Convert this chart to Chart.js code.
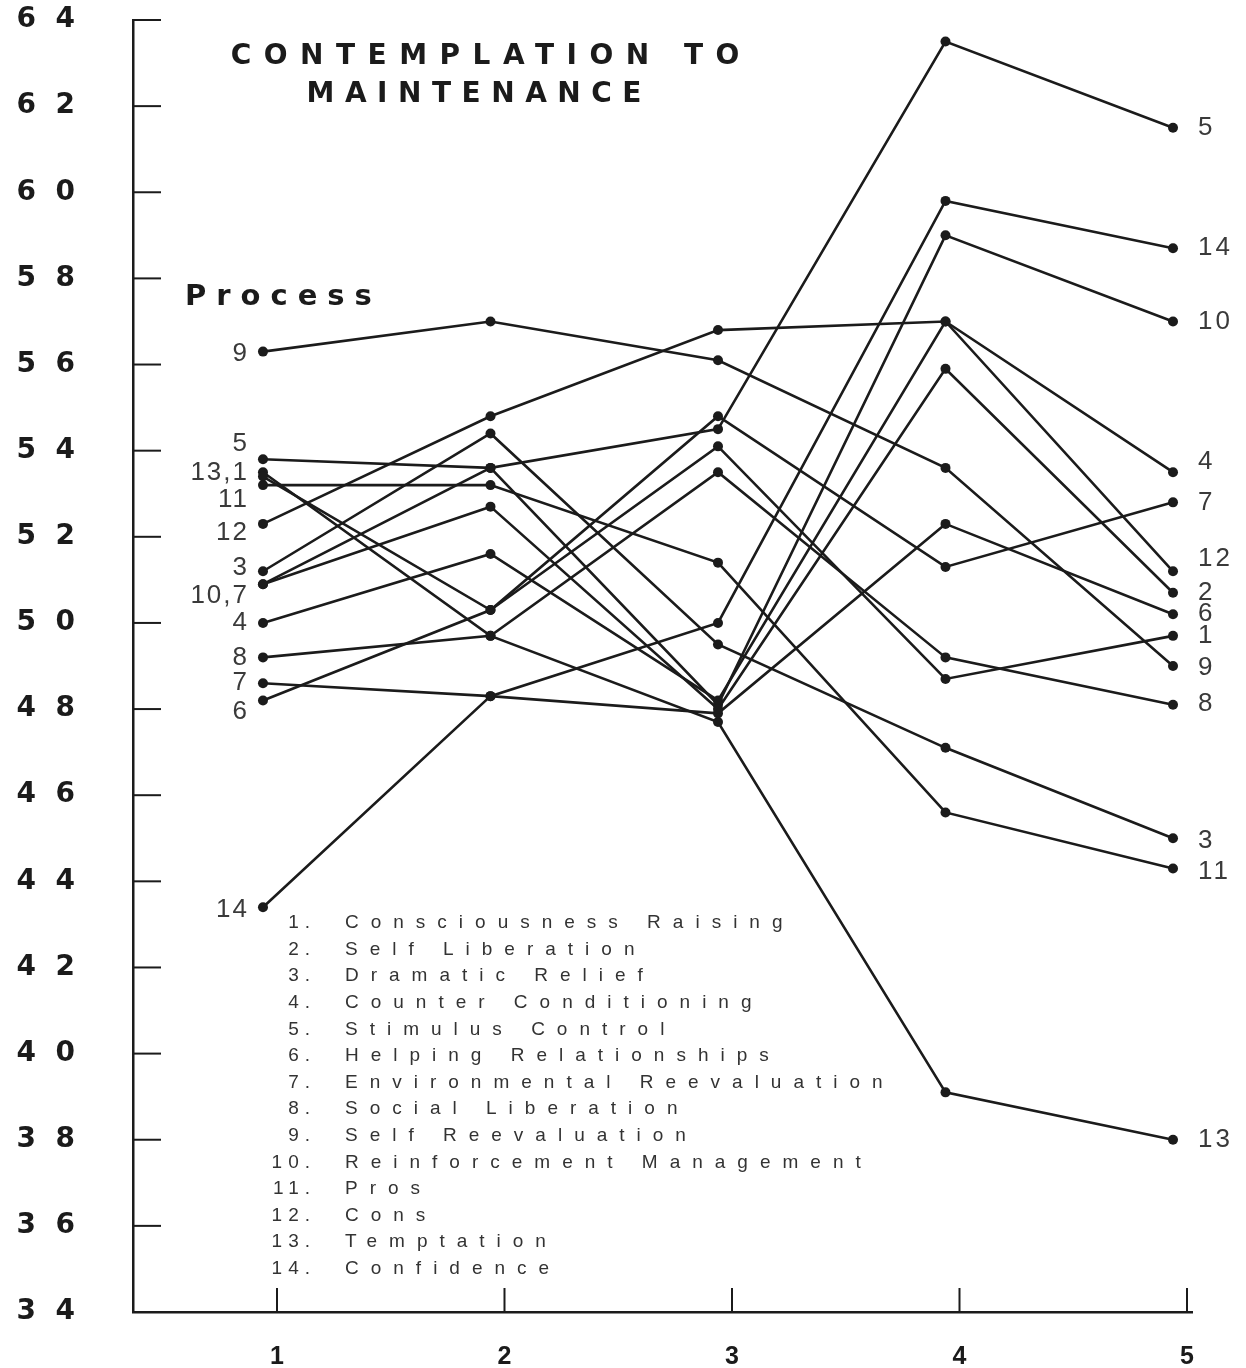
<!DOCTYPE html>
<html>
<head>
<meta charset="utf-8">
<script src="https://cdn.jsdelivr.net/npm/chart.js@4.4.0/dist/chart.umd.min.js"></script>
<style>
    html, body { margin: 0; padding: 0; background: #fff; }
    #wrap { width: 1246px; height: 1368px; }
</style>
</head>
<body>
<div id="wrap"><canvas id="chart" width="1246" height="1368"></canvas></div>
<script>
// stages on the x axis and y axis ticks
const stages = [1, 2, 3, 4, 5];
const yTicks = [34, 36, 38, 40, 42, 44, 46, 48, 50, 52, 54, 56, 58, 60, 62, 64];

const processNames = [
    `Consciousness Raising`, `Self Liberation`, `Dramatic Relief`, `Counter Conditioning`,
    `Stimulus Control`, `Helping Relationships`, `Environmental Reevaluation`, `Social Liberation`,
    `Self Reevaluation`, `Reinforcement Management`, `Pros`, `Cons`, `Temptation`, `Confidence`
];

// T scores per process, stages 1..5
const p1 = [53.4, 50.3, 54.1, 48.7, 49.7];
const p2 = [50.9, 52.7, 48.0, 55.9, 50.7];
const p3 = [51.2, 54.4, 49.5, 47.1, 45.0];
const p4 = [50.0, 51.6, 48.2, 57.0, 53.5];
const p5 = [53.8, 53.6, 54.5, 63.5, 61.5];
const p6 = [48.2, 50.3, 54.8, 51.3, 52.8];
const p7 = [48.6, 48.3, 47.9, 52.3, 50.2];
const p8 = [49.2, 49.7, 53.5, 49.2, 48.1];
const p9 = [56.3, 57.0, 56.1, 53.6, 49.0];
const p10 = [50.9, 53.6, 48.1, 59.0, 57.0];
const p11 = [53.2, 53.2, 51.4, 45.6, 44.3];
const p12 = [52.3, 54.8, 56.8, 57.0, 51.2];
const p13 = [53.5, 49.7, 47.7, 39.1, 38.0];
const p14 = [43.4, 48.3, 50.0, 59.8, 58.7];
const series = [p1, p2, p3, p4, p5, p6, p7, p8, p9, p10, p11, p12, p13, p14];

// number tags next to the first and last points (text, process number)
const leftTags = [[`9`, 9], [`5`, 5], [`13,1`, 13], [`11`, 11], [`12`, 12], [`3`, 3], [`10,7`, 10], [`4`, 4], [`8`, 8], [`7`, 7], [`6`, 6], [`14`, 14]];
const rightTags = [[`5`, 5], [`14`, 14], [`10`, 10], [`4`, 4], [`7`, 6], [`12`, 12], [`2`, 2], [`6`, 7], [`1`, 1], [`9`, 9], [`8`, 8], [`3`, 3], [`11`, 11], [`13`, 13]];

const leftNudge = [2, -15, 1, 15, 9, -3, 12, 0, 0, 0, 11, 3];
const rightNudge = [0, 0, 0, -10, 0, -12, 0, 0, 0, 2, -1, 3, 3, 0];

const ink = `#1b1b1b`;

function spaced(ctx, text, x, y, spacing, align) {
    ctx.letterSpacing = `${spacing}px`;
    ctx.textAlign = align;
    // trailing spacing would push centred / right aligned text to the left
    const shift = align === `center` ? spacing / 2 : align === `right` ? spacing : 0;
    ctx.fillText(text, x + shift, y);
    ctx.letterSpacing = `0px`;
}

const decor = {
    id: `decor`,
    afterDraw(chart) {
        const ctx = chart.ctx;
        const xs = chart.scales.x;
        const ys = chart.scales.y;
        const area = chart.chartArea;
        ctx.save();
        ctx.fillStyle = ink;
        ctx.strokeStyle = ink;
        ctx.textBaseline = `middle`;

        // inward tick marks
        ctx.lineWidth = 2;
        yTicks.forEach(v => {
            if (v === 34) return;
            const y = ys.getPixelForValue(v);
            ctx.beginPath();
            ctx.moveTo(area.left, y);
            ctx.lineTo(area.left + 28, y);
            ctx.stroke();
        });
        stages.forEach(v => {
            const x = Math.min(xs.getPixelForValue(v) + 14, area.right);
            ctx.beginPath();
            ctx.moveTo(x, area.bottom);
            ctx.lineTo(x, area.bottom - 24);
            ctx.stroke();
        });

        // title
        ctx.font = `bold 28px "DejaVu Sans", sans-serif`;
        spaced(ctx, `CONTEMPLATION TO`, 485, 57, 12.5, `center`);
        spaced(ctx, `MAINTENANCE`, 474, 95, 10.5, `center`);

        ctx.font = `bold 29px "DejaVu Sans", sans-serif`;
        spaced(ctx, `Process`, 185, 297, 10, `left`);

        // tags at the ends of the lines
        ctx.font = `26px "Liberation Sans", Arial, sans-serif`;
        ctx.fillStyle = `#3a3a3a`;
        leftTags.forEach(([text, n], i) => {
            const y = ys.getPixelForValue(series[n - 1][0]) + leftNudge[i];
            spaced(ctx, text, 247, y, 2, `right`);
        });
        rightTags.forEach(([text, n], i) => {
            const y = ys.getPixelForValue(series[n - 1][4]) + rightNudge[i];
            spaced(ctx, text, 1198, y, 3, `left`);
        });

        // process key
        ctx.font = `19px "Liberation Sans", Arial, sans-serif`;
        ctx.fillStyle = `#333`;
        processNames.forEach((name, i) => {
            const y = 923 + i * 26.6;
            spaced(ctx, `${i + 1}.`, 310, y, 6, `right`);
            spaced(ctx, name, 345, y, 12, `left`);
        });
        ctx.restore();
    }
};

new Chart(document.querySelector(`#chart`).getContext(`2d`), {
    type: `line`,
    data: {
        datasets: series.map((values, i) => ({
            label: processNames[i],
            data: stages.map((x, j) => ({ x, y: values[j] })),
            borderColor: ink,
            backgroundColor: ink,
            borderWidth: 2.6,
            pointRadius: 5,
            pointBorderWidth: 0,
            tension: 0
        }))
    },
    options: {
        responsive: false,
        animation: false,
        devicePixelRatio: 1,
        layout: { padding: { top: 20, right: 54, left: 0, bottom: 0 } },
        plugins: {
            legend: { display: false },
            tooltip: { enabled: false }
        },
        scales: {
            x: {
                type: `linear`,
                min: 0.4286,
                max: 5.0835,
                afterBuildTicks: scale => { scale.ticks = stages.map(value => ({ value })); },
                afterFit: scale => {
                    scale.height = 56;
                    scale.paddingLeft = 0;
                    scale.paddingRight = 0;
                },
                grid: { display: false, drawTicks: false },
                border: { display: true, color: ink, width: 2.5 },
                ticks: {
                    color: ink,
                    font: { family: `"Liberation Sans", Arial, sans-serif`, size: 25, weight: `bold` },
                    padding: 30,
                    labelOffset: 14,
                    maxRotation: 0
                }
            },
            y: {
                min: 34,
                max: 64,
                afterBuildTicks: scale => { scale.ticks = yTicks.map(value => ({ value })); },
                afterFit: scale => {
                    scale.width = 133;
                    scale.paddingTop = 0;
                    scale.paddingBottom = 0;
                },
                grid: { display: false, drawTicks: false },
                border: { display: true, color: ink, width: 2.5 },
                ticks: {
                    color: ink,
                    font: { family: `"DejaVu Sans", sans-serif`, size: 28, weight: `bold` },
                    padding: 58,
                    callback: v => `${v}`.split(``).join(`  `)
                }
            }
        }
    },
    plugins: [decor]
});
</script>
</body>
</html>
